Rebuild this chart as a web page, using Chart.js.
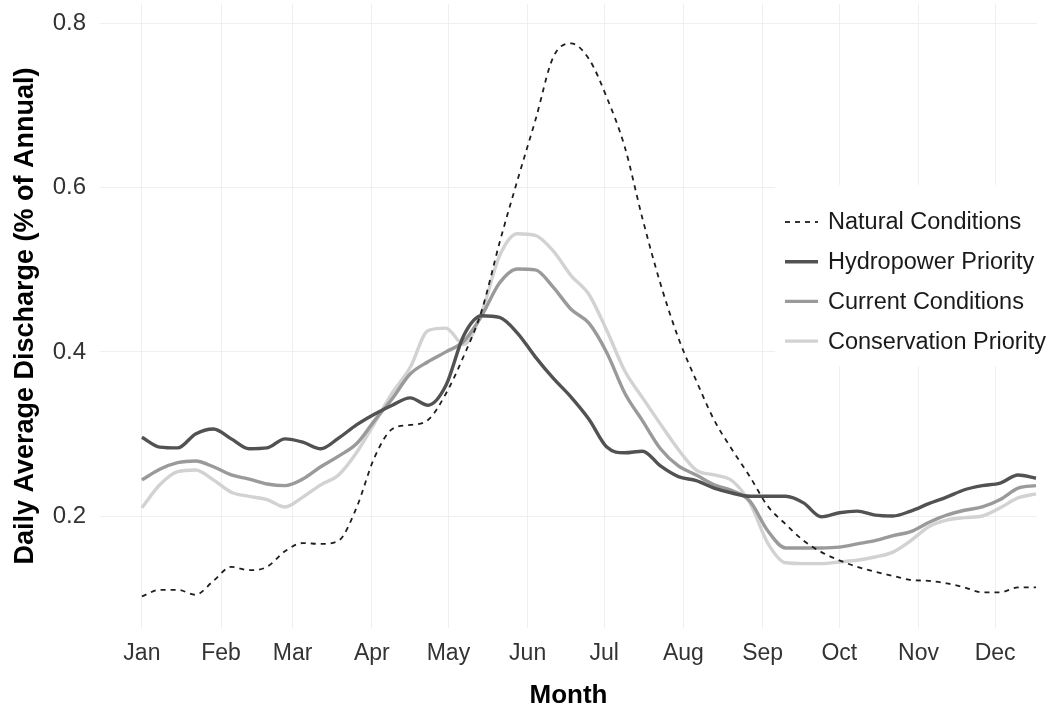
<!DOCTYPE html>
<html>
<head>
<meta charset="utf-8">
<title>Daily Average Discharge</title>
<script src="https://cdn.jsdelivr.net/npm/chart.js@4.4.1/dist/chart.umd.min.js"></script>
<style>
  html, body { margin: 0; padding: 0; background: #ffffff; }
  #wrap { width: 1052px; height: 711px; position: relative; }
</style>
</head>
<body>
<div id="wrap"><canvas id="chart"></canvas></div>
<script>
// Day of year (0 = 1 January), one sample per week
const days = [0, 7, 14, 21, 28, 35, 42, 49, 56, 63, 70, 77, 84, 91, 98, 105, 112, 119, 126, 133,
  140, 147, 154, 161, 168, 175, 182, 189, 196, 203, 210, 217, 224, 231, 238, 245, 252, 259, 266,
  273, 280, 287, 294, 301, 308, 315, 322, 329, 336, 343, 350];

// Daily average discharge, % of annual flow
const naturalConditions = [0.102, 0.110, 0.110, 0.104, 0.121, 0.138, 0.134, 0.138, 0.157, 0.167,
  0.166, 0.170, 0.210, 0.271, 0.306, 0.311, 0.317, 0.349, 0.395, 0.450, 0.533, 0.609, 0.682, 0.759,
  0.776, 0.757, 0.710, 0.650, 0.562, 0.483, 0.417, 0.365, 0.317, 0.281, 0.248, 0.212, 0.190, 0.170,
  0.156, 0.146, 0.138, 0.132, 0.127, 0.122, 0.121, 0.118, 0.113, 0.107, 0.107, 0.113, 0.113];

const hydropowerPriority = [0.296, 0.284, 0.283, 0.300, 0.306, 0.294, 0.282, 0.283, 0.294, 0.290,
  0.282, 0.295, 0.311, 0.324, 0.335, 0.344, 0.335, 0.359, 0.420, 0.444, 0.442, 0.423, 0.394, 0.368,
  0.345, 0.318, 0.284, 0.277, 0.279, 0.261, 0.248, 0.243, 0.234, 0.228, 0.224, 0.224, 0.224, 0.216,
  0.199, 0.204, 0.206, 0.201, 0.200, 0.206, 0.215, 0.223, 0.232, 0.237, 0.240, 0.250, 0.246];

const currentConditions = [0.244, 0.257, 0.265, 0.267, 0.260, 0.250, 0.245, 0.239, 0.237, 0.245,
  0.260, 0.273, 0.288, 0.316, 0.343, 0.373, 0.388, 0.400, 0.413, 0.444, 0.484, 0.501, 0.500, 0.479,
  0.452, 0.435, 0.399, 0.350, 0.316, 0.282, 0.261, 0.250, 0.238, 0.231, 0.218, 0.182, 0.161, 0.161,
  0.161, 0.162, 0.166, 0.170, 0.176, 0.181, 0.192, 0.201, 0.207, 0.211, 0.220, 0.234, 0.237];

const conservationPriority = [0.210, 0.238, 0.254, 0.256, 0.244, 0.229, 0.224, 0.220, 0.211, 0.223,
  0.238, 0.250, 0.277, 0.313, 0.350, 0.381, 0.426, 0.429, 0.409, 0.448, 0.517, 0.544, 0.542, 0.523,
  0.493, 0.470, 0.426, 0.377, 0.344, 0.312, 0.281, 0.256, 0.250, 0.243, 0.216, 0.167, 0.143, 0.142,
  0.142, 0.144, 0.146, 0.150, 0.156, 0.170, 0.187, 0.195, 0.198, 0.200, 0.210, 0.222, 0.227];

// Axis ticks
const monthStarts = [0, 31, 59, 90, 120, 151, 181, 212, 243, 273, 304, 334];
const monthLabels = ['Jan', 'Feb', 'Mar', 'Apr', 'May', 'Jun', 'Jul', 'Aug', 'Sep', 'Oct', 'Nov', 'Dec'];
const yTicks = [0.2, 0.4, 0.6, 0.8];

const FONT = '"Liberation Sans", Arial, Helvetica, sans-serif';

function points(values) {
  return days.map((d, i) => ({ x: d, y: values[i] }));
}

// Legend drawn inside the plot panel on a white box
const panelLegend = {
  id: 'panelLegend',
  beforeDatasetsDraw(chart) {
    const ctx = chart.ctx;
    const a = chart.chartArea;
    ctx.save();
    ctx.fillStyle = '#ffffff';
    ctx.fillRect(a.right - 262, a.top + 181, 262 + 15, 181);
    ctx.restore();
  },
  afterDatasetsDraw(chart) {
    const ctx = chart.ctx;
    const a = chart.chartArea;
    const x0 = a.right - 252;
    ctx.save();
    ctx.font = '23.5px ' + FONT;
    ctx.textBaseline = 'middle';
    ctx.textAlign = 'left';
    chart.data.datasets.forEach((ds, i) => {
      const y = a.top + 218 + i * 39.7;
      ctx.strokeStyle = ds.borderColor;
      ctx.lineWidth = ds.borderWidth;
      ctx.setLineDash(ds.borderDash || []);
      ctx.beginPath();
      ctx.moveTo(x0, y);
      ctx.lineTo(x0 + 33, y);
      ctx.stroke();
      ctx.setLineDash([]);
      ctx.fillStyle = '#1a1a1a';
      ctx.fillText(ds.label, x0 + 43, y + 1);
    });
    ctx.restore();
  }
};

// Keep the plot panel flush with the layout box (no extra room for edge labels)
function noEdgePadding(scale) {
  scale.paddingTop = 0;
  scale.paddingBottom = 0;
  scale.paddingLeft = 0;
  scale.paddingRight = 0;
}

new Chart(document.getElementById('chart'), {
  type: 'line',
  data: {
    datasets: [
      { label: 'Natural Conditions', data: points(naturalConditions), borderColor: '#1e1e1e',
        borderWidth: 1.8, borderDash: [5, 5] },
      { label: 'Hydropower Priority', data: points(hydropowerPriority), borderColor: '#525252',
        borderWidth: 3.4 },
      { label: 'Current Conditions', data: points(currentConditions), borderColor: '#9a9a9a',
        borderWidth: 3.4 },
      { label: 'Conservation Priority', data: points(conservationPriority), borderColor: '#d2d2d2',
        borderWidth: 3.4 }
    ]
  },
  options: {
    responsive: true,
    maintainAspectRatio: false,
    animation: false,
    devicePixelRatio: 1,
    layout: { padding: { top: 4, right: 15, left: 0, bottom: 0 } },
    elements: {
      point: { radius: 0, hoverRadius: 0 },
      line: { cubicInterpolationMode: 'monotone', fill: false, borderCapStyle: 'butt' }
    },
    plugins: {
      legend: { display: false },
      tooltip: { enabled: false }
    },
    scales: {
      x: {
        type: 'linear',
        min: -16.4,
        max: 350.4,
        afterBuildTicks(scale) { scale.ticks = monthStarts.map(v => ({ value: v })); },
        afterFit(scale) { scale.height = 83; noEdgePadding(scale); },
        ticks: {
          autoSkip: false,
          maxRotation: 0,
          padding: 12,
          color: '#333333',
          font: { family: FONT, size: 23 },
          callback(value) {
            const i = monthStarts.indexOf(value);
            return i >= 0 ? monthLabels[i] : '';
          }
        },
        grid: { color: '#efefef', lineWidth: 1, drawTicks: false },
        border: { display: false },
        title: {
          display: true,
          text: 'Month',
          color: '#000000',
          font: { family: FONT, size: 26, weight: 'bold' },
          padding: { top: 0, bottom: 0 }
        }
      },
      y: {
        type: 'linear',
        min: 0.0635,
        max: 0.824,
        afterBuildTicks(scale) { scale.ticks = yTicks.map(v => ({ value: v })); },
        afterFit(scale) { scale.width = 100; noEdgePadding(scale); },
        ticks: {
          padding: 14,
          color: '#333333',
          font: { family: FONT, size: 24 },
          callback(value) { return value.toFixed(1); }
        },
        grid: { color: '#efefef', lineWidth: 1, drawTicks: false },
        border: { display: false },
        title: {
          display: true,
          text: 'Daily Average Discharge (% of Annual)',
          color: '#000000',
          font: { family: FONT, size: 27, weight: 'bold' },
          padding: { top: 9, bottom: 0 }
        }
      }
    }
  },
  plugins: [panelLegend]
});
</script>
</body>
</html>
